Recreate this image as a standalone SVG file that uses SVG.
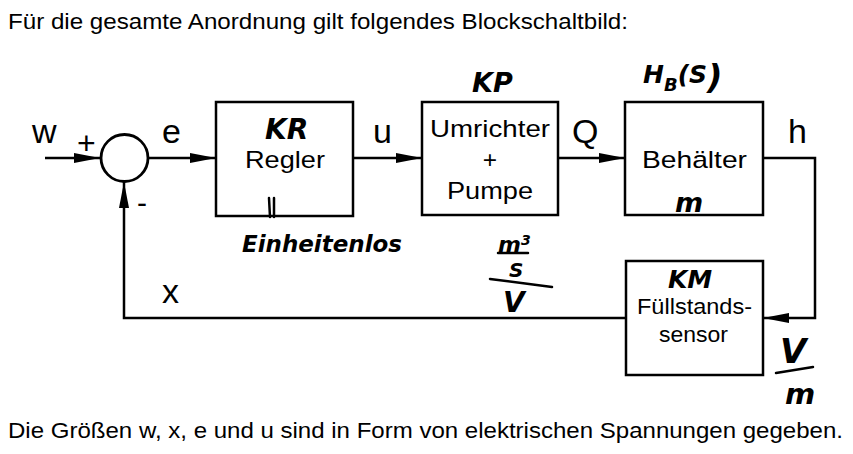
<svg xmlns="http://www.w3.org/2000/svg" width="853" height="454" viewBox="0 0 853 454">
<defs>
<marker id="arr" markerWidth="26" markerHeight="12" refX="26" refY="6" orient="auto" markerUnits="userSpaceOnUse">
<path d="M0,1 L26,6 L0,11 Z" fill="#000"/>
</marker>
<style>
text{font-family:"Liberation Sans",Arial,sans-serif;fill:#000}
.t{font-size:21.5px}
.lbl{font-size:34px}
.blk{font-size:24.5px}
.sm{font-size:22.5px}
.box{fill:#fff;stroke:#000;stroke-width:2.5}
.ln{fill:none;stroke:#000;stroke-width:2.5}
.hw{font-family:"DejaVu Sans","Liberation Sans",sans-serif;font-style:italic;font-weight:bold;fill:#000}
.hl{fill:none;stroke:#000;stroke-width:2.5;stroke-linecap:round}
</style>
</defs>
<rect width="853" height="454" fill="#fff"/>
<text class="t" x="8" y="29" textLength="620" lengthAdjust="spacingAndGlyphs">Für die gesamte Anordnung gilt folgendes Blockschaltbild:</text>
<text class="t" x="8" y="438" textLength="835" lengthAdjust="spacingAndGlyphs">Die Größen w, x, e und u sind in Form von elektrischen Spannungen gegeben.</text>

<g id="connectors">
<line class="ln" x1="45" y1="158" x2="100" y2="158" marker-end="url(#arr)"/>
<line class="ln" x1="148" y1="158" x2="216" y2="158" marker-end="url(#arr)"/>
<line class="ln" x1="353" y1="158" x2="422" y2="158" marker-end="url(#arr)"/>
<line class="ln" x1="558" y1="158" x2="625" y2="158" marker-end="url(#arr)"/>
<polyline class="ln" points="763,158 815,158 815,318 763,318" marker-end="url(#arr)"/>
<polyline class="ln" points="626,318 124,318 124,182" marker-end="url(#arr)"/>
<text class="lbl" x="32" y="143">w</text>
<text class="lbl" x="77" y="154" style="font-size:32px">+</text>
<text class="lbl" x="137" y="213" style="font-size:30px">-</text>
<text class="lbl" x="162" y="143">e</text>
<text class="lbl" x="373" y="143">u</text>
<text class="lbl" x="572" y="143">Q</text>
<text class="lbl" x="788" y="143">h</text>
<text class="lbl" x="162" y="303">x</text>
</g>

<g id="sum">
<circle cx="124.5" cy="158" r="23.5" fill="#fff" stroke="#000" stroke-width="2.8"/>
</g>

<g id="regler">
<rect class="box" x="216" y="102" width="137" height="114"/>
<text class="blk" x="245" y="168" textLength="80" lengthAdjust="spacingAndGlyphs">Regler</text>
<text class="hw" x="265" y="139" style="font-size:28px">KR</text>
<line class="hl" x1="269" y1="198" x2="270" y2="217"/>
<line class="hl" x1="274" y1="198" x2="274" y2="217"/>
<text class="hw" x="242" y="252" style="font-size:23px" textLength="160" lengthAdjust="spacingAndGlyphs">Einheitenlos</text>
</g>

<g id="umrichter">
<rect class="box" x="422" y="102" width="136" height="113"/>
<text class="blk" x="430" y="137" textLength="120" lengthAdjust="spacingAndGlyphs">Umrichter</text>
<text class="blk" x="490" y="168" text-anchor="middle">+</text>
<text class="blk" x="447" y="199" textLength="86" lengthAdjust="spacingAndGlyphs">Pumpe</text>
<text class="hw" x="472" y="92" style="font-size:27px">KP</text>
<text class="hw" x="498" y="252" style="font-size:22px">m<tspan dy="-7" style="font-size:14px">3</tspan></text>
<line class="hl" x1="498" y1="253" x2="528" y2="253"/>
<text class="hw" x="509" y="277" style="font-size:20px">S</text>
<line class="hl" x1="490" y1="279" x2="552" y2="287"/>
<text class="hw" x="503" y="312" style="font-size:28px">V</text>
</g>

<g id="behaelter">
<rect class="box" x="625" y="102" width="138" height="113"/>
<text class="blk" x="642" y="168" textLength="105" lengthAdjust="spacingAndGlyphs">Behälter</text>
<text class="hw" x="643" y="83" style="font-size:25px">H<tspan dy="8" style="font-size:18px">B</tspan><tspan dy="-8">(S</tspan><tspan style="font-size:34px" dy="6">)</tspan></text>
<text class="hw" x="675" y="212" style="font-size:27px">m</text>
</g>

<g id="sensor">
<rect class="box" x="626" y="261" width="137" height="114"/>
<text class="sm" x="637" y="314" textLength="115" lengthAdjust="spacingAndGlyphs">Füllstands-</text>
<text class="sm" x="659" y="342" textLength="69" lengthAdjust="spacingAndGlyphs">sensor</text>
<text class="hw" x="668" y="288" style="font-size:25px">KM</text>
<text class="hw" x="780" y="363" style="font-size:34px">V</text>
<line class="hl" x1="776" y1="373" x2="813" y2="367"/>
<text class="hw" x="785" y="404" style="font-size:29px">m</text>
</g>
</svg>
